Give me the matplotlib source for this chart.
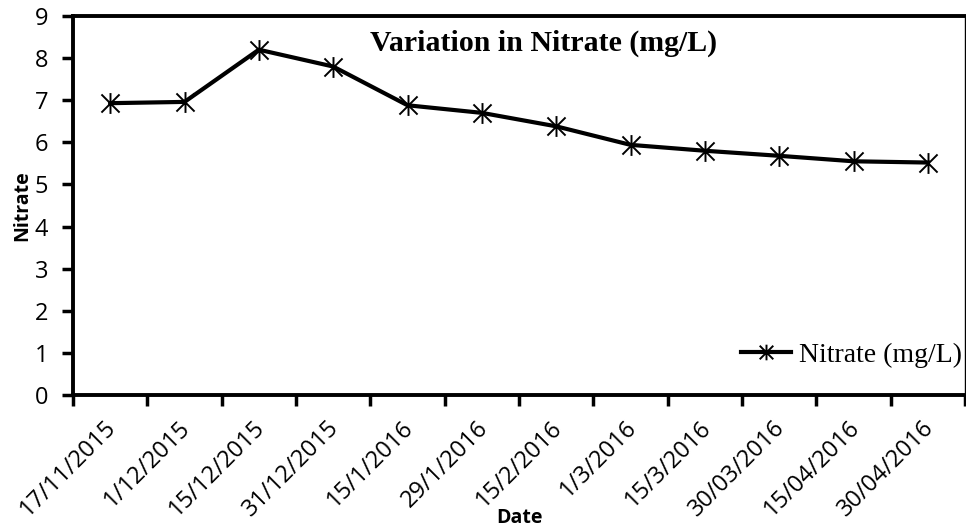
import numpy as np
import matplotlib.pyplot as plt
from matplotlib.path import Path

# Sampling dates and measured nitrate (mg/L)
dates = ["17/11/2015", "1/12/2015", "15/12/2015", "31/12/2015", "15/1/2016",
         "29/1/2016", "15/2/2016", "1/3/2016", "15/3/2016", "30/03/2016",
         "15/04/2016", "30/04/2016"]
nitrate = [6.93, 6.96, 8.20, 7.80, 6.88, 6.70, 6.38, 5.94, 5.80, 5.68, 5.55, 5.52]

# Excel-style star marker: an X with a vertical stroke
star = Path([(-1, -1), (1, 1), (-1, 1), (1, -1), (0, -1.15), (0, 1.15)],
            [Path.MOVETO, Path.LINETO, Path.MOVETO, Path.LINETO, Path.MOVETO, Path.LINETO])

fig = plt.figure(figsize=(9.66, 5.29), dpi=100)
ax = fig.add_axes([73 / 966, 1 - 395 / 529, 892 / 966, 379 / 529])

x = np.arange(len(dates))
ax.plot(x, nitrate, color="black", lw=3, marker=star, markersize=15,
        markeredgewidth=1.4, markerfacecolor="none", label="Nitrate (mg/L)")

ax.set_xlim(-0.5, len(dates) - 0.5)
ax.set_ylim(0, 9)
ax.set_yticks(range(10))

# ticks sit between categories; rotated labels hang just left of each category centre
ax.set_xticks(np.arange(len(dates) + 1) - 0.5)
ax.set_xticklabels([])
ax.set_xticks(x - 0.08, minor=True)
ax.set_xticklabels(dates, minor=True, rotation=45, ha="right", va="top",
                   rotation_mode="anchor", fontsize=17, family="Open Sans")
ax.tick_params(axis="x", which="minor", length=0, pad=15)
ax.tick_params(axis="x", which="major", length=8, width=2.5, direction="out")
ax.tick_params(axis="y", length=8, width=2.5, direction="out", labelsize=17, pad=10)
for lbl in ax.get_yticklabels():
    lbl.set_family("Open Sans")

for side in ["left", "bottom", "top"]:
    ax.spines[side].set_linewidth(2.8)
ax.spines["right"].set_linewidth(1.0)

ax.set_xlabel("Date", fontsize=14, fontweight="bold", family="Open Sans")
ax.xaxis.set_label_coords(0.501, -0.297)
ax.set_ylabel("Nitrate", fontsize=14, fontweight="bold", family="Open Sans")
ax.yaxis.set_label_coords(-0.046, 0.5)

ax.text(0.527, 0.928, "Variation in Nitrate (mg/L)", transform=ax.transAxes,
        ha="center", va="center", fontsize=21.5, fontweight="bold",
        family="Liberation Serif")

ax.legend(loc="lower right", bbox_to_anchor=(1.0, 0.065), frameon=False,
          prop={"family": "Liberation Serif", "size": 20}, handlelength=1.8,
          handletextpad=0.3, borderaxespad=0.0, borderpad=0.1, markerscale=0.75)

fig.savefig("out.png", dpi=100)
